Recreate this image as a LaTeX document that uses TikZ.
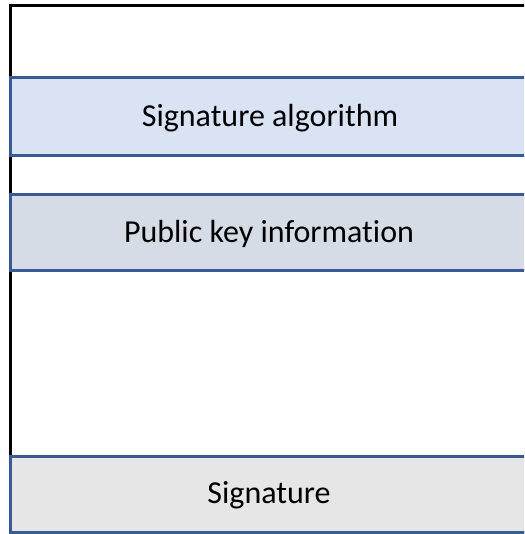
\documentclass[tikz,border=0pt]{standalone}
\usepackage{fontspec}
\setmainfont[Ligatures=CommonOff]{Carlito}
\definecolor{bandblue}{HTML}{DAE3F3}
\definecolor{bandgray}{HTML}{D6DCE5}
\definecolor{bandlight}{HTML}{E6E6E6}
\definecolor{edgeblue}{HTML}{3A5A96}
\begin{document}
\begin{tikzpicture}[x=1pt,y=-1pt,
  band/.style={draw=edgeblue,line width=3pt},
  lbl/.style={font=\fontsize{32}{38}\selectfont,text=black,anchor=center,inner sep=0pt}]
\useasboundingbox (0,0) rectangle (524,534);
\begin{scope}
\clip (0,0) rectangle (524,534);
\draw[line width=3pt,black] (10,6) rectangle (540,532);
\filldraw[band,fill=bandblue] (10,78) rectangle (540,155.5);
\filldraw[band,fill=bandgray] (10,194.5) rectangle (540,270.5);
\filldraw[band,fill=bandlight] (10,456) rectangle (540,532);
\end{scope}
\node[lbl] (alg) at (270,118) {Signature algorithm};
\node[lbl] (pk) at (269,233.5) {Public key information};
\node[lbl] (sig) at (269,495) {Signature};
\end{tikzpicture}
\end{document}
